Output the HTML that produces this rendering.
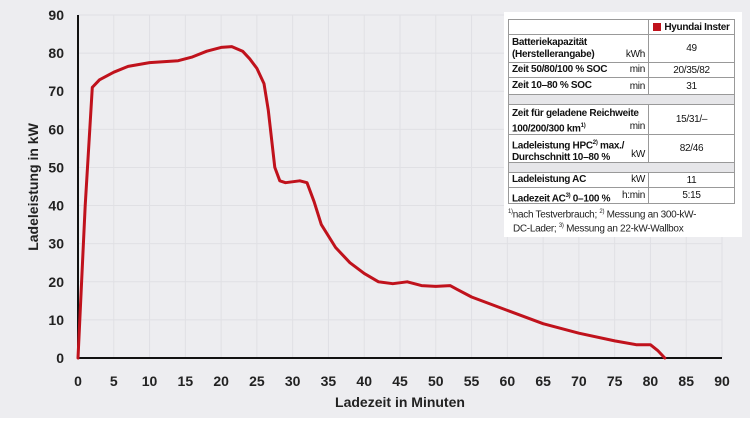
<!DOCTYPE html>
<html><head><meta charset="utf-8">
<style>
body{margin:0;width:750px;height:421px;background:#fff;font-family:"Liberation Sans",sans-serif;overflow:hidden}
#bg{position:absolute;left:0;top:0;width:750px;height:418px;background:#ededf0}
svg{position:absolute;left:0;top:0}
#panel{position:absolute;left:504px;top:12px;width:238px;height:225px;background:#fff}
.r{position:absolute;left:508px;width:227px;border:1px solid #999;border-top:none;box-sizing:border-box;font-size:10px;color:#111;white-space:nowrap;letter-spacing:-0.3px}
.l{position:absolute;left:3px;font-weight:bold;line-height:12px}
.u{position:absolute;right:89px;bottom:1px;font-size:10px;line-height:12px}
.v{position:absolute;left:139px;right:0;top:0;bottom:0;border-left:1px solid #999;display:flex;align-items:center;justify-content:center}
.gap{background:#e6e6e9}
sup{font-size:6px}
#fn{position:absolute;left:508px;top:207px;font-size:10px;line-height:11.5px;color:#222;white-space:nowrap;letter-spacing:-0.3px}
</style></head><body>
<div id="bg"></div>
<svg id="chart" width="750" height="421"></svg>
<div id="panel"></div>
<div class="r" style="top:19px;height:16px;border-top:1px solid #999"><div class="v" style="font-weight:bold"><span style="display:inline-block;width:8px;height:8px;background:#c0121c;margin-right:3px"></span>Hyundai Inster</div></div>
<div class="r" style="top:35px;height:28px"><div class="l" style="top:2px">Batteriekapazität<br>(Herstellerangabe)</div><span class="u">kWh</span><div class="v">49</div></div>
<div class="r" style="top:63px;height:15px"><div class="l" style="top:1px">Zeit 50/80/100 % SOC</div><span class="u">min</span><div class="v">20/35/82</div></div>
<div class="r" style="top:78px;height:17px"><div class="l" style="top:2px">Zeit 10–80 % SOC</div><span class="u">min</span><div class="v">31</div></div>
<div class="r gap" style="top:95px;height:10px"></div>
<div class="r" style="top:105px;height:30px"><div class="l" style="top:3px">Zeit für geladene Reichweite<br>100/200/300 km<sup>1)</sup></div><span class="u">min</span><div class="v">15/31/–</div></div>
<div class="r" style="top:135px;height:28px"><div class="l" style="top:2px">Ladeleistung HPC<sup>2)</sup> max./<br>Durchschnitt 10–80 %</div><span class="u">kW</span><div class="v">82/46</div></div>
<div class="r gap" style="top:163px;height:10px"></div>
<div class="r" style="top:173px;height:15px"><div class="l" style="top:1px">Ladeleistung AC</div><span class="u">kW</span><div class="v">11</div></div>
<div class="r" style="top:188px;height:16px"><div class="l" style="top:2px">Ladezeit AC<sup>3)</sup> 0–100 %</div><span class="u">h:min</span><div class="v">5:15</div></div>
<div id="fn"><sup>1)</sup>nach Testverbrauch; <sup>2)</sup> Messung an 300-kW-<br>&nbsp;&nbsp;DC-Lader; <sup>3)</sup> Messung an 22-kW-Wallbox</div>
<script>
const xTicks=[0,5,10,15,20,25,30,35,40,45,50,55,60,65,70,75,80,85,90];
const yTicks=[0,10,20,30,40,50,60,70,80,90];
const minutes=[0,1,2,3,5,7,10,14,16,18,20,21.5,23,24,25,26,26.6,27.5,28.2,29,31,32,33,34,36,38,40,42,44,46,48,50,52,53,55,60,65,70,75,78,80,81,82];
const power=[0,40,71,73,75,76.5,77.5,78,79,80.5,81.5,81.7,80.5,78.5,76,72,65,50,46.5,46,46.5,46,41,35,29,25,22.2,20,19.5,20,19,18.8,19,18,16,12.5,9,6.5,4.5,3.5,3.5,2,0];
const svg=document.getElementById('chart');const NS='http://www.w3.org/2000/svg';
const X0=78,X1=722,Y0=358,Y1=15;
const sx=v=>X0+(X1-X0)*v/90, sy=v=>Y0-(Y0-Y1)*v/90;
function el(t,a,name){const e=document.createElementNS(NS,t);for(const k in a)e.setAttribute(k,a[k]);


svg.appendChild(e);return e;}
xTicks.forEach(v=>{if(v>0)el('line',{x1:sx(v),x2:sx(v),y1:Y1,y2:Y0,stroke:'#e0e0e4','stroke-width':1},'x-grid-line');
const t=el('text',{x:sx(v),y:386,'text-anchor':'middle','font-size':14,'font-weight':'bold',fill:'#222','font-family':'Liberation Sans'},'x-tick-label');t.textContent=v;});
yTicks.forEach(v=>{if(v>0)el('line',{x1:X0,x2:X1,y1:sy(v),y2:sy(v),stroke:'#e0e0e4','stroke-width':1},'y-grid-line');
const t=el('text',{x:64,y:sy(v)+5,'text-anchor':'end','font-size':14,'font-weight':'bold',fill:'#222','font-family':'Liberation Sans'},'y-tick-label');t.textContent=v;});
el('line',{x1:X0,x2:X0,y1:Y1,y2:Y0,stroke:'#111','stroke-width':2},'y-axis-line');
el('line',{x1:X0,x2:X1,y1:Y0,y2:Y0,stroke:'#111','stroke-width':2},'x-axis-line');
let d='';minutes.forEach((m,i)=>{d+=(i?'L':'M')+sx(m).toFixed(1)+','+sy(power[i]).toFixed(1);});
el('path',{d:d,fill:'none',stroke:'#c0121c','stroke-width':3,'stroke-linejoin':'round','stroke-linecap':'round'},'charging-power-line');
const xt=el('text',{x:400,y:407,'text-anchor':'middle','font-size':14,'font-weight':'bold',fill:'#222','font-family':'Liberation Sans'},'x-axis-title');xt.textContent='Ladezeit in Minuten';
const yt=el('text',{x:0,y:0,'text-anchor':'middle','font-size':14,'font-weight':'bold',fill:'#222','font-family':'Liberation Sans',transform:'translate(38,187) rotate(-90)'},'y-axis-title');yt.textContent='Ladeleistung in kW';
</script>
</body></html>
